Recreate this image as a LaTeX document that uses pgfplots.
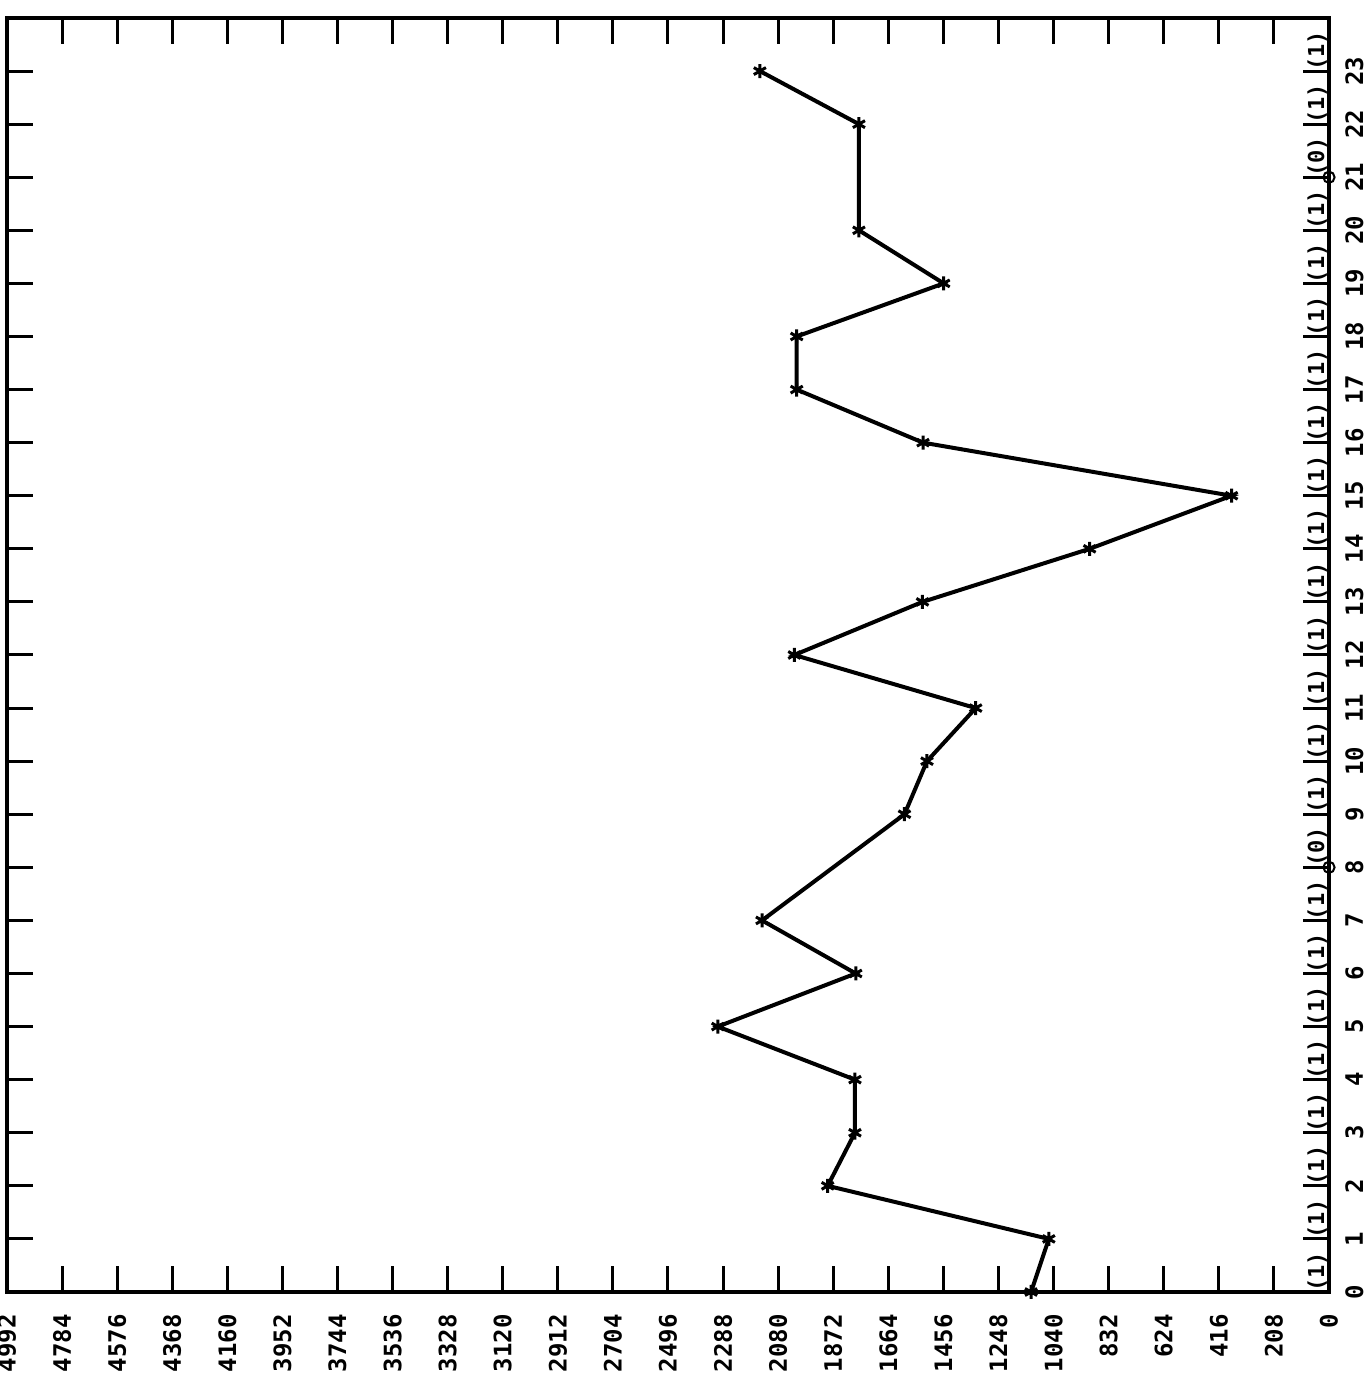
\documentclass[border=0pt]{standalone}
\usepackage{fontspec}
\setmainfont{DejaVu Sans Mono}
\setmonofont{DejaVu Sans Mono}
\usepackage{pgfplots}
\pgfplotsset{compat=1.18}
\tikzset{ann/.style={font=\ttfamily\bfseries\fontsize{11}{12}\selectfont, rotate=90, anchor=base west, inner sep=0pt}}
\pgfplotstableread{
idx val
0 1125
1 1058
2 1893
3 1790
4 1790
5 2308
6 1787
7 2141
9 1603
10 1518
11 1334
12 2019
13 1535
14 904
15 368
16 1533
17 2010
18 2010
19 1455
20 1775
22 1775
23 2149
}\datatable
\begin{document}
\begin{tikzpicture}
\begin{axis}[
  scale only axis,
  width=661pt, height=637pt,
  xmin=0, xmax=4992, x dir=reverse,
  ymin=0, ymax=24,
  xtick={0,208,416,624,832,1040,1248,1456,1664,1872,2080,2288,2496,2704,2912,3120,3328,3536,3744,3952,4160,4368,4576,4784,4992},
  ytick={0,1,2,3,4,5,6,7,8,9,10,11,12,13,14,15,16,17,18,19,20,21,22,23},
  yticklabel pos=right,
  xticklabel pos=lower,
  tick pos=both, tick align=inside,
  major tick length=13pt,
  axis line style={line width=2pt},
  every tick/.style={black, line width=1.5pt},
  scaled x ticks=false, scaled y ticks=false,
  /pgf/number format/.cd, 1000 sep={}, assume math mode=true, /pgfplots/.cd,
  xticklabel style={font=\ttfamily\bfseries\fontsize{12}{13}\selectfont, rotate=90, anchor=east, inner sep=0pt},
  xticklabel shift=11pt,
  yticklabel style={font=\ttfamily\bfseries\fontsize{12}{13}\selectfont, rotate=90, anchor=north, inner sep=0pt},
  yticklabel shift=8pt,
  clip=false,
]
\addplot[black, line width=2pt, mark=asterisk, mark size=3.5pt, mark options={line width=1.5pt}] table[x=val, y=idx] {\datatable};
\addplot[black, only marks, mark=o, mark size=2.8pt, line width=1pt] coordinates {(0,8) (0,21)};
\pgfplotsinvokeforeach{0,1,2,3,4,5,6,7,9,10,11,12,13,14,15,16,17,18,19,20,22,23}{
  \node[ann] at ([xshift=-2.5pt]axis cs:0,#1) {(1)};
}
\node[ann] at ([xshift=-2.5pt]axis cs:0,8) {(0)};
\node[ann] at ([xshift=-2.5pt]axis cs:0,21) {(0)};
\end{axis}
\pgfresetboundingbox
\path[use as bounding box] ([shift={(-3.5pt,-41pt)}]current axis.south west) rectangle ([shift={(19pt,9pt)}]current axis.north east);
\end{tikzpicture}
\end{document}
